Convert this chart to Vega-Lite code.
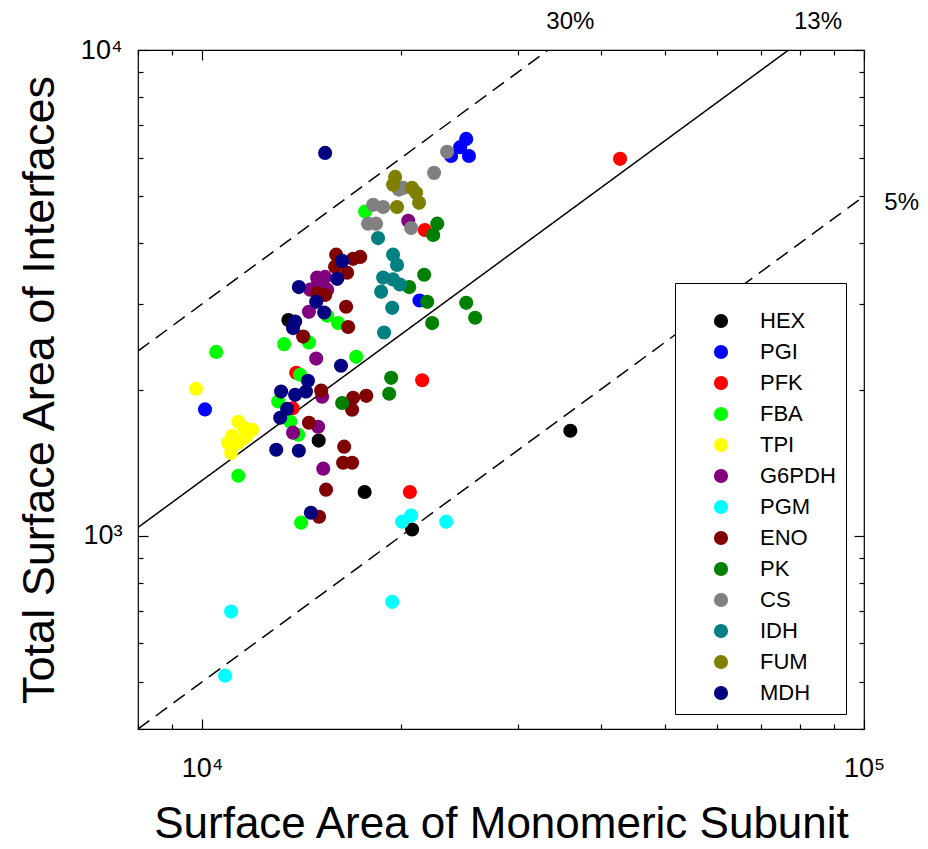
{
  "$schema": "https://vega.github.io/schema/vega-lite/v6.json",
  "width": 726,
  "height": 679,
  "autosize": "none",
  "padding": {"left": 138, "top": 50, "right": 64, "bottom": 120},
  "background": "white",
  "config": {
    "view": {"stroke": "black", "strokeWidth": 1.2},
    "font": "Liberation Sans",
    "axis": {"domain": false, "grid": false, "tickColor": "black", "tickWidth": 1.2, "labelColor": "black", "titleColor": "black", "labelFont": "Liberation Sans", "titleFont": "Liberation Sans", "titleFontWeight": "normal", "labelFlush": false, "labelOverlap": false}
  },
  "datasets": {
    "lines": [
      {"line": "30%", "x": 8000, "y": 2400}, {"line": "30%", "x": 33333, "y": 10000},
      {"line": "13%", "x": 8000, "y": 1040}, {"line": "13%", "x": 76923, "y": 10000},
      {"line": "5%", "x": 8000, "y": 400}, {"line": "5%", "x": 100000, "y": 5000}
    ],
    "labels": [
      {"t": "30%", "x": 36000, "y": 11400},
      {"t": "13%", "x": 85200, "y": 11400},
      {"t": "5%", "x": 114000, "y": 4840}
    ],
    "pts": [
      {"g": "HEX", "sa": 13500, "tsa": 2780}, {"g": "HEX", "sa": 15000, "tsa": 1570}, {"g": "HEX", "sa": 17600, "tsa": 1230}, {"g": "HEX", "sa": 20760, "tsa": 1030}, {"g": "HEX", "sa": 36000, "tsa": 1645},
      {"g": "PGI", "sa": 10100, "tsa": 1820}, {"g": "PGI", "sa": 25060, "tsa": 6560}, {"g": "PGI", "sa": 24540, "tsa": 6310}, {"g": "PGI", "sa": 23780, "tsa": 6050}, {"g": "PGI", "sa": 25300, "tsa": 6050}, {"g": "PGI", "sa": 21300, "tsa": 3050},
      {"g": "PFK", "sa": 42800, "tsa": 5970}, {"g": "PFK", "sa": 21700, "tsa": 4260}, {"g": "PFK", "sa": 21500, "tsa": 2090}, {"g": "PFK", "sa": 20600, "tsa": 1230}, {"g": "PFK", "sa": 13870, "tsa": 2165}, {"g": "PFK", "sa": 13700, "tsa": 1830},
      {"g": "FBA", "sa": 10500, "tsa": 2390}, {"g": "FBA", "sa": 11340, "tsa": 1329}, {"g": "FBA", "sa": 13300, "tsa": 2480}, {"g": "FBA", "sa": 14110, "tsa": 1064}, {"g": "FBA", "sa": 17090, "tsa": 2335}, {"g": "FBA", "sa": 17630, "tsa": 4650}, {"g": "FBA", "sa": 14500, "tsa": 2500}, {"g": "FBA", "sa": 16050, "tsa": 2740}, {"g": "FBA", "sa": 15450, "tsa": 2837}, {"g": "FBA", "sa": 14060, "tsa": 2145}, {"g": "FBA", "sa": 13030, "tsa": 1890}, {"g": "FBA", "sa": 13590, "tsa": 1716}, {"g": "FBA", "sa": 13970, "tsa": 1614},
      {"g": "TPI", "sa": 9790, "tsa": 2007}, {"g": "TPI", "sa": 11340, "tsa": 1716}, {"g": "TPI", "sa": 11900, "tsa": 1652}, {"g": "TPI", "sa": 11570, "tsa": 1668}, {"g": "TPI", "sa": 11100, "tsa": 1606}, {"g": "TPI", "sa": 10940, "tsa": 1554}, {"g": "TPI", "sa": 11340, "tsa": 1554}, {"g": "TPI", "sa": 11060, "tsa": 1481}, {"g": "TPI", "sa": 11650, "tsa": 1598},
      {"g": "G6PDH", "sa": 14920, "tsa": 3400}, {"g": "G6PDH", "sa": 15340, "tsa": 3410}, {"g": "G6PDH", "sa": 14560, "tsa": 3210}, {"g": "G6PDH", "sa": 15450, "tsa": 3210}, {"g": "G6PDH", "sa": 14970, "tsa": 3330}, {"g": "G6PDH", "sa": 14500, "tsa": 2890}, {"g": "G6PDH", "sa": 14870, "tsa": 2316}, {"g": "G6PDH", "sa": 15180, "tsa": 1932}, {"g": "G6PDH", "sa": 13720, "tsa": 1630}, {"g": "G6PDH", "sa": 14970, "tsa": 1676}, {"g": "G6PDH", "sa": 15240, "tsa": 1374}, {"g": "G6PDH", "sa": 20480, "tsa": 4450},
      {"g": "PGM", "sa": 20050, "tsa": 1069}, {"g": "PGM", "sa": 20690, "tsa": 1100}, {"g": "PGM", "sa": 23370, "tsa": 1069}, {"g": "PGM", "sa": 19370, "tsa": 731}, {"g": "PGM", "sa": 11060, "tsa": 698}, {"g": "PGM", "sa": 10830, "tsa": 515},
      {"g": "ENO", "sa": 15940, "tsa": 3790}, {"g": "ENO", "sa": 15880, "tsa": 3580}, {"g": "ENO", "sa": 16560, "tsa": 3480}, {"g": "ENO", "sa": 17330, "tsa": 3750}, {"g": "ENO", "sa": 16910, "tsa": 3716}, {"g": "ENO", "sa": 16500, "tsa": 2960}, {"g": "ENO", "sa": 16620, "tsa": 2690}, {"g": "ENO", "sa": 14210, "tsa": 2570}, {"g": "ENO", "sa": 14920, "tsa": 3160}, {"g": "ENO", "sa": 15340, "tsa": 3130}, {"g": "ENO", "sa": 15130, "tsa": 1990}, {"g": "ENO", "sa": 14500, "tsa": 1708}, {"g": "ENO", "sa": 16390, "tsa": 1525}, {"g": "ENO", "sa": 16330, "tsa": 1413}, {"g": "ENO", "sa": 16850, "tsa": 1413}, {"g": "ENO", "sa": 15390, "tsa": 1244}, {"g": "ENO", "sa": 15020, "tsa": 1094}, {"g": "ENO", "sa": 16910, "tsa": 1923}, {"g": "ENO", "sa": 17700, "tsa": 1941}, {"g": "ENO", "sa": 16850, "tsa": 1817},
      {"g": "PK", "sa": 22660, "tsa": 4390}, {"g": "PK", "sa": 22340, "tsa": 4160}, {"g": "PK", "sa": 21650, "tsa": 3445}, {"g": "PK", "sa": 20550, "tsa": 3250}, {"g": "PK", "sa": 21880, "tsa": 3030}, {"g": "PK", "sa": 22260, "tsa": 2740}, {"g": "PK", "sa": 25060, "tsa": 3016}, {"g": "PK", "sa": 25850, "tsa": 2810}, {"g": "PK", "sa": 19300, "tsa": 2114}, {"g": "PK", "sa": 19170, "tsa": 1960}, {"g": "PK", "sa": 16275, "tsa": 1876},
      {"g": "CS", "sa": 23450, "tsa": 6170}, {"g": "CS", "sa": 22410, "tsa": 5585}, {"g": "CS", "sa": 20130, "tsa": 5200}, {"g": "CS", "sa": 19830, "tsa": 5160}, {"g": "CS", "sa": 18130, "tsa": 4800}, {"g": "CS", "sa": 18770, "tsa": 4750}, {"g": "CS", "sa": 17810, "tsa": 4390}, {"g": "CS", "sa": 18310, "tsa": 4390}, {"g": "CS", "sa": 20690, "tsa": 4300},
      {"g": "IDH", "sa": 18440, "tsa": 4100}, {"g": "IDH", "sa": 19430, "tsa": 3790}, {"g": "IDH", "sa": 19700, "tsa": 3610}, {"g": "IDH", "sa": 18770, "tsa": 3400}, {"g": "IDH", "sa": 19430, "tsa": 3370}, {"g": "IDH", "sa": 19900, "tsa": 3290}, {"g": "IDH", "sa": 18640, "tsa": 3180}, {"g": "IDH", "sa": 19370, "tsa": 2945}, {"g": "IDH", "sa": 18830, "tsa": 2620},
      {"g": "FUM", "sa": 19570, "tsa": 5480}, {"g": "FUM", "sa": 19430, "tsa": 5280}, {"g": "FUM", "sa": 20760, "tsa": 5200}, {"g": "FUM", "sa": 21050, "tsa": 5080}, {"g": "FUM", "sa": 21270, "tsa": 4845}, {"g": "FUM", "sa": 19700, "tsa": 4750},
      {"g": "MDH", "sa": 15340, "tsa": 6140}, {"g": "MDH", "sa": 16275, "tsa": 3680}, {"g": "MDH", "sa": 16000, "tsa": 3380}, {"g": "MDH", "sa": 14000, "tsa": 3250}, {"g": "MDH", "sa": 14870, "tsa": 3030}, {"g": "MDH", "sa": 15290, "tsa": 2880}, {"g": "MDH", "sa": 13820, "tsa": 2760}, {"g": "MDH", "sa": 13720, "tsa": 2676}, {"g": "MDH", "sa": 16210, "tsa": 2238}, {"g": "MDH", "sa": 14450, "tsa": 2085}, {"g": "MDH", "sa": 13160, "tsa": 1980}, {"g": "MDH", "sa": 13820, "tsa": 1950}, {"g": "MDH", "sa": 14350, "tsa": 1980}, {"g": "MDH", "sa": 13440, "tsa": 1826}, {"g": "MDH", "sa": 13120, "tsa": 1749}, {"g": "MDH", "sa": 12940, "tsa": 1503}, {"g": "MDH", "sa": 14000, "tsa": 1496}, {"g": "MDH", "sa": 14600, "tsa": 1115}
    ]
  },
  "layer": [
    {
      "data": {"name": "lines"},
      "mark": {"type": "line", "color": "black", "strokeWidth": 1.5, "clip": true},
      "encoding": {
        "x": {"field": "x", "type": "quantitative", "scale": {"type": "log", "domain": [8000, 100000], "nice": false},
          "axis": {"orient": "top", "values": [8000, 9000, 10000, 20000, 30000, 40000, 50000, 60000, 70000, 80000, 90000, 100000], "labels": false, "title": null,
            "tickSize": {"condition": {"test": "datum.value == 10000 || datum.value == 100000", "value": -10}, "value": -5}}},
        "y": {"field": "y", "type": "quantitative", "scale": {"type": "log", "domain": [400, 10000], "nice": false},
          "axis": {"orient": "right", "values": [400, 500, 600, 700, 800, 900, 1000, 2000, 3000, 4000, 5000, 6000, 7000, 8000, 9000, 10000], "labels": false, "title": null,
            "tickSize": {"condition": {"test": "datum.value == 1000 || datum.value == 10000", "value": -10}, "value": -5}}},
        "detail": {"field": "line"},
        "strokeDash": {"field": "line", "type": "nominal", "scale": {"domain": ["30%", "13%", "5%"], "range": [[14, 8], [1, 0], [14, 8]]}, "legend": null}
      }
    },
    {
      "data": {"name": "labels"},
      "mark": {"type": "text", "fontSize": 24, "color": "black", "font": "Liberation Sans", "clip": false, "baseline": "middle", "align": "center"},
      "encoding": {
        "x": {"field": "x", "type": "quantitative", "scale": {"type": "log", "domain": [8000, 100000], "nice": false}, "axis": null},
        "y": {"field": "y", "type": "quantitative", "scale": {"type": "log", "domain": [400, 10000], "nice": false}, "axis": null},
        "text": {"field": "t"}
      }
    },
    {
      "data": {"name": "pts"},
      "mark": {"type": "circle", "size": 200, "opacity": 1},
      "encoding": {
        "x": {"field": "sa", "type": "quantitative", "scale": {"type": "log", "domain": [8000, 100000], "nice": false},
          "axis": {"orient": "bottom", "values": [8000, 9000, 10000, 20000, 30000, 40000, 50000, 60000, 70000, 80000, 90000, 100000],
            "labelExpr": "datum.value == 10000 ? '10⁴' : datum.value == 100000 ? '10⁵' : ''",
            "tickSize": {"condition": {"test": "datum.value == 10000 || datum.value == 100000", "value": -10}, "value": -5},
            "labelFontSize": 27, "labelPadding": 36, "title": "Surface Area of Monomeric Subunit", "titleFontSize": 44, "titlePadding": 16}},
        "y": {"field": "tsa", "type": "quantitative", "scale": {"type": "log", "domain": [400, 10000], "nice": false},
          "axis": {"orient": "left", "values": [400, 500, 600, 700, 800, 900, 1000, 2000, 3000, 4000, 5000, 6000, 7000, 8000, 9000, 10000],
            "labelExpr": "datum.value == 10000 ? '10⁴' : datum.value == 1000 ? '10³' : ''",
            "tickSize": {"condition": {"test": "datum.value == 1000 || datum.value == 10000", "value": -10}, "value": -5},
            "labelFontSize": 27, "labelPadding": 26, "title": "Total Surface Area of Interfaces", "titleFontSize": 45, "titlePadding": 18}},
        "color": {"field": "g", "type": "nominal",
          "scale": {"domain": ["HEX", "PGI", "PFK", "FBA", "TPI", "G6PDH", "PGM", "ENO", "PK", "CS", "IDH", "FUM", "MDH"],
            "range": ["#000000", "#0000ff", "#ff0000", "#00ff00", "#ffff00", "#800080", "#00ffff", "#800000", "#008000", "#808080", "#008080", "#808000", "#000080"]},
          "legend": {"orient": "none", "legendX": 537, "legendY": 233, "title": " ", "titleFontSize": 10, "titlePadding": 7,
            "padding": 10, "strokeColor": "black", "fillColor": "white", "symbolType": "circle", "symbolSize": 200, "symbolStrokeWidth": 0, "symbolOpacity": 1,
            "symbolOffset": 25, "labelOffset": 28, "labelFontSize": 22, "labelFont": "Liberation Sans", "labelColor": "black", "rowPadding": 9, "cornerRadius": 0}}
      }
    }
  ],
  "resolve": {"axis": {"x": "independent", "y": "independent"}}
}
